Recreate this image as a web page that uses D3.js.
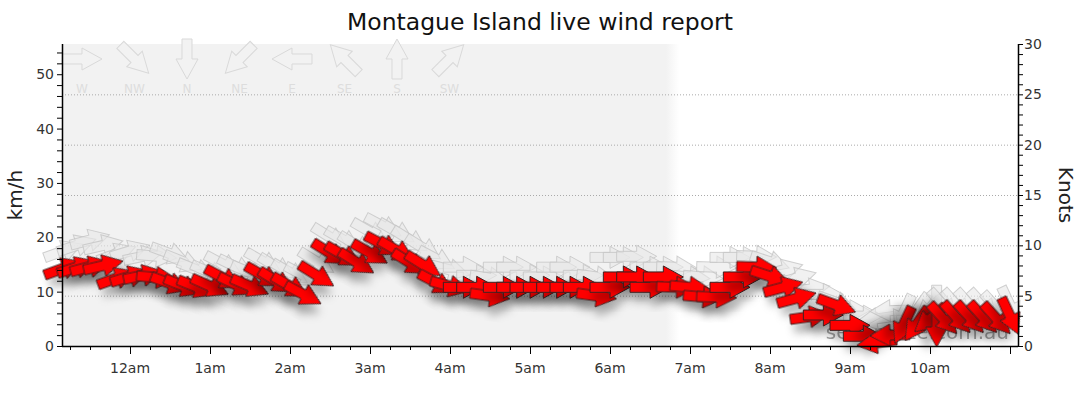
<!DOCTYPE html>
<html><head><meta charset="utf-8">
<script src="https://cdn.jsdelivr.net/npm/d3@7"></script>
<style>
body{margin:0;background:#fff;}
svg{display:block;font-family:"DejaVu Sans",Verdana,sans-serif;}
</style>
</head><body>
<svg id="c" width="1080" height="414"></svg>
<script>
// ---- data ----
const times = ["23:10","23:20","23:30","23:40","23:50",
"00:00","00:10","00:20","00:30","00:40","00:50",
"01:00","01:10","01:20","01:30","01:40","01:50",
"02:00","02:10","02:20","02:30","02:40","02:50",
"03:00","03:10","03:20","03:30","03:40","03:50",
"04:00","04:10","04:20","04:30","04:40","04:50",
"05:00","05:10","05:20","05:30","05:40","05:50",
"06:00","06:10","06:20","06:30","06:40","06:50",
"07:00","07:10","07:20","07:30","07:40","07:50",
"08:00","08:10","08:20","08:30","08:40","08:50",
"09:00","09:10","09:20","09:30","09:40","09:50",
"10:00","10:05","10:10","10:20","10:30","10:40","10:50",
"11:00"];
const speedKmh = [14.3,14.5,14.6,14.8,12.5,
12.8,13.0,12.6,11.5,11.0,10.8,
11.0,12.5,11.2,11.0,12.9,11.9,
11.0,9.5,13.0,17.1,16.7,15.4,
17.1,18.6,17.6,15.3,14.9,11.6,
11.0,10.8,10.8,9.2,10.8,10.8,
10.8,10.8,10.8,10.8,10.8,9.2,
10.8,12.7,12.7,10.8,12.7,10.8,
10.8,9.0,9.0,10.8,12.7,14.5,
12.8,10.8,8.8,5.4,5.7,7.5,
3.8,1.8,0.6,2.0,3.8,4.0,
5.0,3.5,5.0,5.2,5.2,5.2,5.0,
5.5];
const gustKmh = [17.5,18.5,19.5,18.5,17.0,
17.5,16.5,16.5,17.0,15.5,14.0,
13.5,15.0,14.5,13.5,15.5,14.5,
13.5,13.0,15.5,20.0,19.5,18.5,
21.0,22.0,21.0,19.5,18.0,16.0,
14.0,14.5,13.0,12.5,14.5,14.5,
13.0,12.7,14.5,14.5,13.0,12.7,
16.3,16.3,16.5,14.5,14.5,14.5,
12.7,12.7,14.5,16.3,16.3,16.5,
15.5,14.0,12.5,10.5,9.5,8.0,
6.5,5.5,5.0,6.5,6.0,6.5,
7.0,7.5,7.5,7.5,7.5,7.5,7.0,
7.5];
const dirDeg = [250,252,255,257,250,
253,258,275,290,292,292,
294,298,296,293,300,302,
300,298,302,302,300,302,
300,298,300,302,302,298,
285,270,270,278,270,270,
270,270,270,270,270,278,
270,270,270,270,270,272,
275,275,272,270,270,272,
288,255,255,262,270,290,
270,270,82,88,25,35,
50,0,318,318,318,318,318,
335];
const legendLabels = ["W","NW","N","NE","E","SE","S","SW"];
const legendDeg = [270,315,0,45,90,135,180,225];
const kmhTicks = [0,10,20,30,40,50];
const knotTicks = [0,5,10,15,20,25,30];
const nightEnd = ["06:42","06:52"];
const title = "Montague Island live wind report";
const watermark = "seabreeze.com.au";

// ---- helpers ----
function parseT(s){
  const [h,m] = s.split(":").map(Number);
  return h >= 12 ? new Date(2024,0,1,h,m) : new Date(2024,0,2,h,m);
}
const KMH_PER_KNOT = 1.852;

const svg = d3.select("#c");
const L = 62, R = 1018, T = 44, B = 346;

const x = d3.scaleTime().domain([new Date(2024,0,1,23,9), new Date(2024,0,2,11,6)]).range([L,R]);
const yK = d3.scaleLinear().domain([0,30]).range([B,T]);
const y = d3.scaleLinear().domain([0,30*KMH_PER_KNOT]).range([B,T]);

const defs = svg.append("defs");
const grad = defs.append("linearGradient").attr("id","night").attr("gradientUnits","userSpaceOnUse")
  .attr("x1",L).attr("x2",R).attr("y1",0).attr("y2",0);
const f1 = (x(parseT(nightEnd[0]))-L)/(R-L), f2 = (x(parseT(nightEnd[1]))-L)/(R-L);
grad.append("stop").attr("offset",0).attr("stop-color","#f2f2f2");
grad.append("stop").attr("offset",f1).attr("stop-color","#f2f2f2");
grad.append("stop").attr("offset",f2).attr("stop-color","#ffffff");
grad.append("stop").attr("offset",1).attr("stop-color","#ffffff");
const filt = defs.append("filter").attr("id","sh").attr("x","-60%").attr("y","-60%").attr("width","220%").attr("height","220%");
filt.append("feDropShadow").attr("dx",3).attr("dy",9).attr("stdDeviation",4.5)
  .attr("flood-color","#000").attr("flood-opacity",0.28);

svg.append("rect").attr("x",L).attr("y",T).attr("width",R-L).attr("height",B-T).attr("fill","url(#night)");

// grid (knots)
svg.append("g").selectAll("line").data([5,10,15,20,25]).join("line")
  .attr("x1",L).attr("x2",R).attr("y1",d=>yK(d)+0.5).attr("y2",d=>yK(d)+0.5)
  .attr("stroke","#aaa").attr("stroke-dasharray","1,2").attr("stroke-width",1);

// arrow shape (pointing right, centred)
const arrowPath = "M-20,-5L0,-5L0,-11L20,0L0,11L0,5L-20,5Z";
function rot(deg){ return deg - 270; }

// legend
const lg = svg.append("g");
legendLabels.forEach((lab,i)=>{
  const cx = 82 + i*52.5;
  lg.append("path").attr("d",arrowPath)
    .attr("transform",`translate(${cx},59) rotate(${rot(legendDeg[i])})`)
    .attr("fill","#f2f2f2").attr("stroke","#d9d9d9").attr("stroke-width",1);
  lg.append("text").attr("x",cx).attr("y",93).attr("text-anchor","middle")
    .attr("font-size",12).attr("fill","#dddddd").text(lab);
});

// watermark
svg.append("text").attr("x",1009).attr("y",339).attr("text-anchor","end")
  .attr("font-size",20).attr("fill","#8c8c8c").attr("opacity",0.8).text(watermark);

const data = times.map((t,i)=>({t:parseT(t), s:speedKmh[i], g:gustKmh[i], d:dirDeg[i]}));

// gust arrows
svg.append("g").selectAll("path").data(data).join("path")
  .attr("d",arrowPath)
  .attr("transform",d=>`translate(${x(d.t)},${y(d.g)}) rotate(${rot(d.d)})`)
  .attr("fill","#e8e8e8").attr("fill-opacity",0.6)
  .attr("stroke","#c4c4c4").attr("stroke-opacity",0.8).attr("stroke-width",1);

// speed arrows
svg.append("g").selectAll("path").data(data).join("path")
  .attr("d",arrowPath)
  .attr("transform",d=>`translate(${x(d.t)},${y(d.s)}) rotate(${rot(d.d)})`)
  .attr("fill","#ff0000").attr("stroke","#3a2020").attr("stroke-width",1)
  .attr("filter","url(#sh)");

// axes
const axisCol = "#000";
const gL = svg.append("g").attr("transform",`translate(${L},0)`);
gL.call(d3.axisLeft(y).tickValues(d3.range(0,56,2)).tickSize(5).tickFormat(""));
gL.call(g=>g.select(".domain").remove());
gL.selectAll(".tick line").attr("stroke",axisCol);
svg.append("g").selectAll("text").data(kmhTicks).join("text")
  .attr("x",L-8).attr("y",d=>y(d)+5).attr("text-anchor","end")
  .attr("font-size",14).attr("fill","#333").text(d=>d);
svg.append("line").attr("x1",L+0.5).attr("x2",L+0.5).attr("y1",T).attr("y2",B).attr("stroke",axisCol).attr("stroke-width",1.5);

const gR = svg.append("g").attr("transform",`translate(${R},0)`);
gR.call(d3.axisRight(yK).tickValues(d3.range(0,31,1)).tickSize(5).tickFormat(""));
gR.call(g=>g.select(".domain").remove());
gR.selectAll(".tick line").attr("stroke",axisCol);
svg.append("g").selectAll("text").data(knotTicks).join("text")
  .attr("x",R+6).attr("y",d=>yK(d)+5).attr("text-anchor","start")
  .attr("font-size",14).attr("fill","#333").text(d=>d);
svg.append("line").attr("x1",R+0.5).attr("x2",R+0.5).attr("y1",T).attr("y2",B).attr("stroke",axisCol).attr("stroke-width",1.5);

const gB = svg.append("g").attr("transform",`translate(0,${B})`);
gB.call(d3.axisBottom(x).ticks(d3.timeMinute.every(15)).tickSize(4).tickFormat(""));
gB.call(g=>g.select(".domain").remove());
gB.selectAll(".tick line").attr("stroke",axisCol);
const hours = x.ticks(d3.timeHour.every(1));
svg.append("g").selectAll("line").data(hours).join("line")
  .attr("x1",d=>x(d)+0.5).attr("x2",d=>x(d)+0.5).attr("y1",B).attr("y2",B+8).attr("stroke",axisCol);
const fmt = d => d3.timeFormat("%-I%p")(d).toLowerCase();
svg.append("g").selectAll("text").data(hours.filter(d=>x(d) < R-20)).join("text")
  .attr("x",d=>x(d)).attr("y",373).attr("text-anchor","middle")
  .attr("font-size",14).attr("fill","#333").text(fmt);
svg.append("line").attr("x1",L).attr("x2",R).attr("y1",B+0.5).attr("y2",B+0.5).attr("stroke",axisCol).attr("stroke-width",1.5);

// titles
svg.append("text").attr("x",540).attr("y",30).attr("text-anchor","middle")
  .attr("font-size",23.5).attr("fill","#111").text(title);
svg.append("text").attr("transform","translate(22,195) rotate(-90)").attr("text-anchor","middle")
  .attr("font-size",20).attr("fill","#222").text("km/h");
svg.append("text").attr("transform","translate(1059,195) rotate(90)").attr("text-anchor","middle")
  .attr("font-size",20).attr("fill","#222").text("Knots");
</script>
</body></html>
